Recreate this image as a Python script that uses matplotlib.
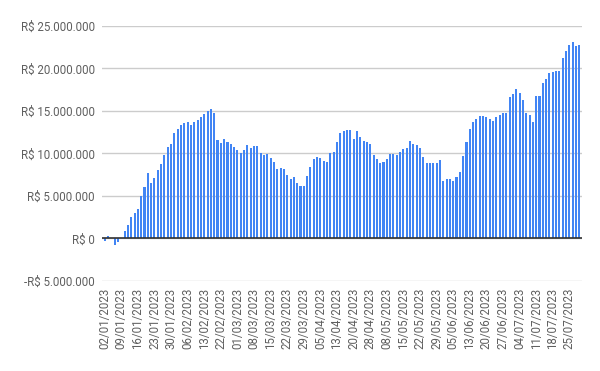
import numpy as np
import pandas as pd
import matplotlib
matplotlib.use("Agg")
import matplotlib.pyplot as plt
from matplotlib.ticker import FuncFormatter

# business days (B3 calendar) Jan 2 - Jul 28, 2023
HOLIDAYS = ["2023-02-20", "2023-02-21", "2023-04-07", "2023-04-21",
            "2023-05-01", "2023-06-08"]
dates = pd.bdate_range("2023-01-02", "2023-07-28", freq="C", holidays=HOLIDAYS)

# values in millions of R$
values_m = [
    -0.27, 0.27, 0.02, -0.74, -0.39, 0.02, 0.86, 1.56, 2.49, 2.96,
    3.43, 4.99, 6.00, 7.75, 6.47, 7.17, 8.10, 8.80, 9.86, 10.79,
    11.14, 12.43, 12.89, 13.36, 13.60, 13.71, 13.36, 13.71, 13.95, 14.30,
    14.65, 15.00, 15.23, 14.76, 11.61, 11.26, 11.73, 11.38, 11.14, 10.79,
    10.44, 10.09, 10.44, 11.02, 10.67, 10.91, 10.91, 10.09, 9.86, 9.97,
    9.51, 9.04, 8.22, 8.34, 8.22, 7.52, 7.05, 7.28, 6.47, 6.23,
    6.23, 7.40, 8.45, 9.39, 9.62, 9.51, 9.15, 9.04, 10.09, 10.21,
    11.38, 12.43, 12.66, 12.78, 12.78, 11.73, 12.66, 11.96, 11.49, 11.38,
    11.14, 9.86, 9.39, 8.92, 9.04, 9.39, 9.97, 9.97, 9.86, 10.21,
    10.56, 10.67, 11.49, 11.14, 11.02, 10.67, 9.62, 8.92, 8.92, 8.92,
    8.92, 9.27, 6.82, 7.05, 7.05, 6.82, 7.28, 7.87, 9.74, 11.38,
    12.89, 13.71, 14.06, 14.41, 14.41, 14.30, 14.06, 13.80, 14.35, 14.47,
    14.71, 14.71, 16.59, 16.98, 17.57, 17.10, 16.27, 14.82, 14.47, 13.65,
    16.71, 16.82, 18.35, 18.82, 19.41, 19.53, 19.76, 19.76, 21.29, 22.00,
    22.71, 23.06, 22.59, 22.82,
]
values = np.array(values_m) * 1e6
labels = [d.strftime("%d/%m/%Y") for d in dates]

BLUE = "#4285F4"
TEXT = "#5f5f5f"
GRID = "#cccccc"
ZERO = "#333333"

plt.rcParams["font.family"] = ["Roboto", "DejaVu Sans"]


def brl(v, pos=None):
    s = f"{abs(v):,.0f}".replace(",", ".")
    return f"-R$ {s}" if v < 0 else f"R$ {s}"


fig = plt.figure(figsize=(6.0, 3.71), dpi=100)
ax = fig.add_axes([0.17, 0.2426, 0.80, 0.6874])
x = np.arange(len(values))
ax.bar(x, values, width=0.62, color=BLUE, zorder=3)

ax.set_ylim(-5e6, 25e6)
ax.set_yticks(np.arange(-5e6, 25e6 + 1, 5e6))
ax.yaxis.set_major_formatter(FuncFormatter(brl))
ax.set_xlim(-0.8, len(values) - 0.2)
ax.set_xticks(x[::5])
ax.set_xticklabels(labels[::5], rotation=90)

ax.grid(axis="y", color=GRID, lw=1, zorder=0)
ax.axhline(0, color=ZERO, lw=1.2, zorder=4)
for s in ax.spines.values():
    s.set_visible(False)
ax.tick_params(axis="both", length=0, labelsize=8.3, colors=TEXT)
ax.tick_params(axis="y", pad=5)
ax.tick_params(axis="x", pad=5)

fig.savefig("out.png", dpi=100, facecolor="white")
